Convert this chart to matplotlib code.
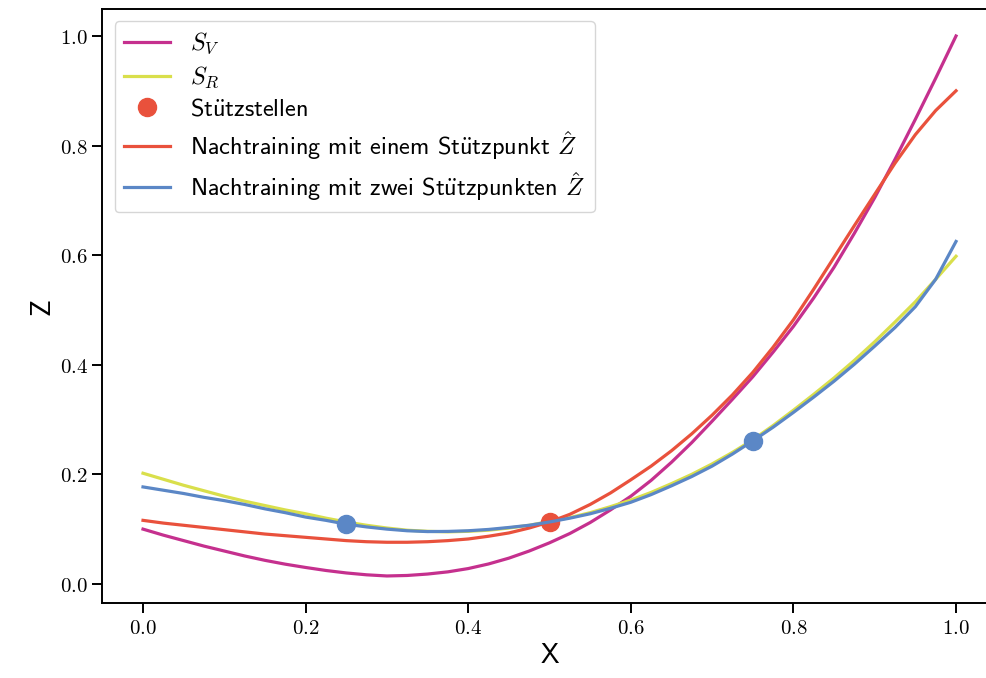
import matplotlib
matplotlib.use("Agg")
import matplotlib.pyplot as plt
import numpy as np

# sample positions along X (every 0.025)
x = [0.000, 0.025, 0.050, 0.075, 0.100, 0.125, 0.150, 0.175, 0.200, 0.225,
     0.250, 0.275, 0.300, 0.325, 0.350, 0.375, 0.400, 0.425, 0.450, 0.475,
     0.500, 0.525, 0.550, 0.575, 0.600, 0.625, 0.650, 0.675, 0.700, 0.725,
     0.750, 0.775, 0.800, 0.825, 0.850, 0.875, 0.900, 0.925, 0.950, 0.975,
     1.000]

s_v = [0.100, 0.089, 0.079, 0.069, 0.060, 0.051, 0.043, 0.036, 0.030, 0.0245,
       0.020, 0.0166, 0.0145, 0.0154, 0.018, 0.022, 0.028, 0.0364, 0.047, 0.060,
       0.075, 0.092, 0.112, 0.135, 0.160, 0.189, 0.222, 0.258, 0.297, 0.337,
       0.378, 0.423, 0.470, 0.522, 0.578, 0.640, 0.705, 0.775, 0.848, 0.923,
       1.000]
s_r = [0.202, 0.191, 0.180, 0.170, 0.160, 0.151, 0.143, 0.135, 0.128, 0.120,
       0.113, 0.107, 0.102, 0.098, 0.096, 0.095, 0.096, 0.098, 0.102, 0.107,
       0.114, 0.121, 0.130, 0.141, 0.153, 0.167, 0.183, 0.200, 0.219, 0.240,
       0.263, 0.289, 0.317, 0.346, 0.376, 0.408, 0.442, 0.478, 0.515, 0.556,
       0.598]
z_one = [0.116, 0.111, 0.107, 0.103, 0.099, 0.095, 0.091, 0.088, 0.085, 0.082,
         0.079, 0.077, 0.076, 0.076, 0.077, 0.079, 0.082, 0.087, 0.093, 0.102,
         0.113, 0.127, 0.145, 0.166, 0.190, 0.215, 0.243, 0.274, 0.308, 0.345,
         0.386, 0.432, 0.482, 0.538, 0.596, 0.654, 0.711, 0.768, 0.820, 0.864,
         0.900]
z_two = [0.177, 0.171, 0.165, 0.158, 0.152, 0.145, 0.137, 0.130, 0.122, 0.116,
         0.109, 0.104, 0.100, 0.097, 0.0955, 0.0958, 0.097, 0.0994, 0.103, 0.107,
         0.113, 0.120, 0.128, 0.138, 0.149, 0.163, 0.179, 0.196, 0.215, 0.237,
         0.261, 0.286, 0.313, 0.341, 0.370, 0.401, 0.434, 0.468, 0.506, 0.556,
         0.625]

# support points
pt_one_x = [0.5]
pt_one_z = [0.113]
pt_two_x = [0.25, 0.75]
pt_two_z = [0.109, 0.261]

c_v = "#c5308e"
c_r = "#d9df4b"
c_one = "#e9513c"
c_two = "#5b87c6"

plt.rcParams["mathtext.fontset"] = "cm"
sans = ["cmss10", "DejaVu Sans"]
ue = r"$\ddot{\mathsf{u}}$"

fig = plt.figure(figsize=(9.87, 6.78), dpi=100)
ax = fig.add_axes([0.1037, 0.1105, 0.9061, 0.876])

lw = 2.3
ax.plot(x, s_v, color=c_v, lw=lw, label=r"$S_V$")
ax.plot(x, s_r, color=c_r, lw=lw, label=r"$S_R$")
ax.plot(pt_one_x, pt_one_z, "o", color=c_one, ms=13,
        label="St" + ue + "tzstellen")
ax.plot(x, z_one, color=c_one, lw=lw,
        label="Nachtraining mit einem St" + ue + r"tzpunkt $\hat{Z}$")
ax.plot(x, z_two, color=c_two, lw=lw,
        label="Nachtraining mit zwei St" + ue + r"tzpunkten $\hat{Z}$")
ax.plot(pt_two_x, pt_two_z, "o", color=c_two, ms=13)

ax.set_xlim(-0.05, 1.05)
ax.set_ylim(-0.035, 1.049)

ticks = [0.0, 0.2, 0.4, 0.6, 0.8, 1.0]
ax.set_xticks(ticks, labels=[f"${t:.1f}$" for t in ticks])
ax.set_yticks(ticks, labels=[f"${t:.1f}$" for t in ticks])
ax.tick_params(labelsize=15, length=7, width=1.4)
for s in ax.spines.values():
    s.set_linewidth(1.4)

ax.set_xlabel("X", fontsize=20, family=sans)
ax.set_ylabel("Z", fontsize=20, family=sans)

ax.legend(loc="upper left", prop={"family": sans, "size": 17.5},
          handlelength=1.9, labelspacing=0.34)

fig.savefig("out.png", dpi=100)
